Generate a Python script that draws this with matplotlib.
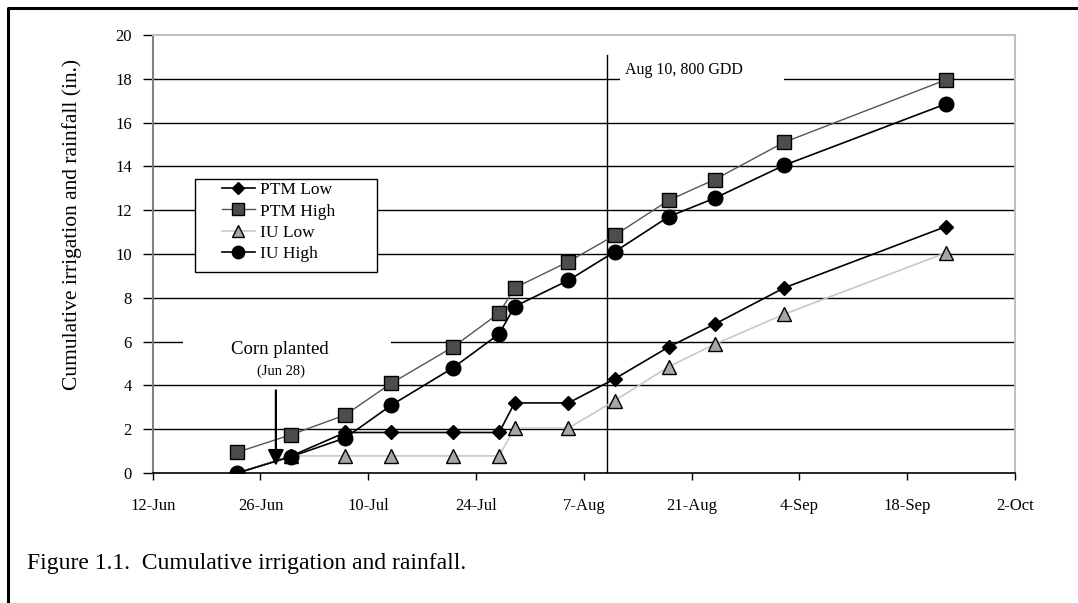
import matplotlib
matplotlib.use("Agg")
import matplotlib.pyplot as plt
import matplotlib.dates as mdates
from matplotlib.lines import Line2D
from matplotlib.patches import Rectangle
from matplotlib.transforms import IdentityTransform
import datetime as dt

plt.rcParams['font.family'] = ['Liberation Serif', 'DejaVu Serif']

YEAR = 2003
dates = ["Jun 23", "Jun 30", "Jul 7", "Jul 13", "Jul 21", "Jul 27", "Jul 29",
         "Aug 5", "Aug 11", "Aug 18", "Aug 24", "Sep 2", "Sep 23"]
ptm_low = [0, 0.78, 1.85, 1.85, 1.85, 1.85, 3.2, 3.2, 4.3, 5.75, 6.8, 8.45, 11.25]
ptm_high = [0.95, 1.75, 2.65, 4.1, 5.75, 7.3, 8.45, 9.65, 10.85, 12.45, 13.4, 15.1, 17.95]
iu_low = [0, 0.78, 0.78, 0.78, 0.78, 0.78, 2.05, 2.05, 3.3, 4.85, 5.88, 7.25, 10.05]
iu_high = [0, 0.75, 1.6, 3.1, 4.8, 6.35, 7.6, 8.8, 10.1, 11.7, 12.55, 14.05, 16.85]
tick_labels = ["12-Jun", "26-Jun", "10-Jul", "24-Jul", "7-Aug", "21-Aug", "4-Sep", "18-Sep", "2-Oct"]
y_ticks = [0, 2, 4, 6, 8, 10, 12, 14, 16, 18, 20]


def d(s):
    return dt.datetime.strptime(f"{s} {YEAR}", "%b %d %Y")


x = [d(s) for s in dates]
tick_dates = [dt.datetime.strptime(f"{t}-{YEAR}", "%d-%b-%Y") for t in tick_labels]

W, H = 1078, 603
fig = plt.figure(figsize=(W / 100, H / 100), dpi=100)
ax = fig.add_axes([152.7 / W, 1 - 473 / H, (1015 - 152.7) / W, (473 - 35) / H])

# gridlines
for yv in y_ticks[1:-1]:
    ax.axhline(yv, color='black', lw=1.0, zorder=1)

# series
ax.plot(x, ptm_low, color='black', lw=1.2, marker='D', ms=7.5, mfc='black', mec='black', zorder=4, label='PTM Low')
ax.plot(x, ptm_high, color='#555555', lw=1.0, marker='s', ms=10.5, mfc='#4d4d4d', mec='black', mew=1.0, zorder=5, label='PTM High')
ax.plot(x, iu_low, color='#c8c8c8', lw=1.2, marker='^', ms=10.5, mfc='#a6a6a6', mec='black', mew=1.0, zorder=6, label='IU Low')
ax.plot(x, iu_high, color='black', lw=1.2, marker='o', ms=10.5, mfc='black', mec='black', zorder=7, label='IU High')

ax.set_xlim(tick_dates[0], tick_dates[-1])
ax.set_ylim(0, 20)
ax.set_xticks(tick_dates)
ax.set_xticklabels(tick_labels, fontsize=12)
ax.set_yticks(y_ticks)
ax.set_yticklabels([str(v) for v in y_ticks], fontsize=12)
ax.tick_params(axis='x', direction='out', length=5, width=1, pad=13, color='black')
ax.tick_params(axis='y', direction='out', length=7, width=1, pad=8, color='black')

for side in ['top', 'right']:
    ax.spines[side].set_color('#c0c0c0')
    ax.spines[side].set_linewidth(1.5)
ax.spines['left'].set_color('#808080')
ax.spines['left'].set_linewidth(1.5)
ax.spines['bottom'].set_color('black')
ax.spines['bottom'].set_linewidth(1.2)

ax.set_ylabel('Cumulative irrigation and rainfall (in.)', fontsize=15.5)
ax.yaxis.set_label_coords((82 - 152.7) / 862.3, (473 - 224) / 438)

# Aug 10 vertical line and label
aug10 = d("Aug 10")
ax.plot([aug10, aug10], [0, 19.1], color='black', lw=1.0, zorder=3)
ax.add_patch(Rectangle((mdates.date2num(aug10) + 1.7, 17.7), 21.3, 1.15,
                       facecolor='white', edgecolor='none', zorder=2))
ax.text(aug10 + dt.timedelta(days=2.3), 18.38, 'Aug 10, 800 GDD', fontsize=11.5,
        va='center', ha='left', zorder=3)

# Corn planted annotation
jun28 = d("Jun 28")
ax.add_patch(Rectangle((mdates.date2num(d("Jun 16")), 4.3), 27.0, 2.1,
                       facecolor='white', edgecolor='none', zorder=2))
ax.text(jun28 + dt.timedelta(days=0.5), 5.65, 'Corn planted', fontsize=13.5,
        ha='center', va='center', zorder=3)
ax.text(jun28 + dt.timedelta(days=0.6), 4.65, '(Jun 28)', fontsize=10.5,
        ha='center', va='center', zorder=3)
ax.annotate('', xy=(jun28, 0.2), xytext=(jun28, 3.9),
            arrowprops=dict(arrowstyle='-|>', color='black', lw=1.6, mutation_scale=24),
            zorder=8)

# legend: frame drawn separately (inside axes, below legend), entries with left margin
frame = Rectangle((195, H - 272), 182, 93, transform=IdentityTransform(),
                  facecolor='white', edgecolor='black', lw=1.0, zorder=9, clip_on=False)
ax.add_artist(frame)
leg = ax.legend(loc='upper left', bbox_to_anchor=(222 / W, 1 - 182 / H),
                bbox_transform=fig.transFigure, borderaxespad=0, fontsize=12.5,
                frameon=False, handlelength=1.9, handletextpad=0.3,
                labelspacing=0.3, borderpad=0, numpoints=1)
for h in leg.legend_handles:
    h.set_markersize(h.get_markersize() * 0.85)
leg.set_zorder(10)

fig.text(27 / W, 1 - 563 / H, 'Figure 1.1.  Cumulative irrigation and rainfall.',
         fontsize=17, ha='left', va='center')

# outer frame
fig.add_artist(Line2D([7.5, 7.5, W + 5], [-5, H - 7.5, H - 7.5], transform=None,
                      color='black', lw=2.2))

fig.savefig('out.png', dpi=100)
